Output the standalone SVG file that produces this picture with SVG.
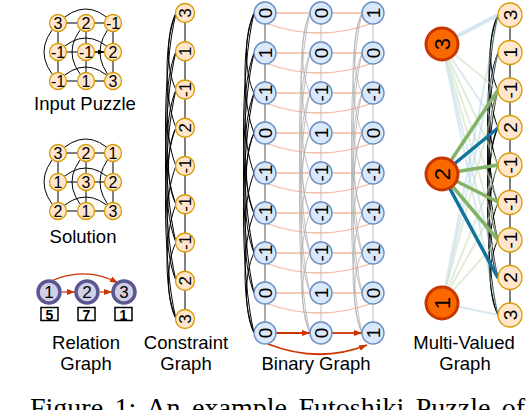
<svg xmlns="http://www.w3.org/2000/svg" xmlns:xlink="http://www.w3.org/1999/xlink" width="526" height="410" viewBox="0 0 526 410">
<style>
text{font-family:"Liberation Sans",Arial,sans-serif;fill:#000;text-anchor:middle;dominant-baseline:central}
.lbl{font-size:18.5px;dominant-baseline:auto}
.cap{font-family:"Liberation Serif","Times New Roman",serif;font-size:28px;text-anchor:start;dominant-baseline:auto;word-spacing:4.5px}
.pz circle{fill:#ffe6cc;stroke:#d79b00;stroke-width:1.3}
.bn circle{fill:#dae8fc;stroke:#6c8ebf;stroke-width:1.4}
.mv circle{fill:#fa6800;stroke:#c73500;stroke-width:3}
.rn circle{fill:#d1d0e6;stroke:#5b5791;stroke-width:3.5}
.bx rect{fill:#fff;stroke:#000;stroke-width:1.5}
.f16{font-size:16px}.f17{font-size:17px}.f19{font-size:19px}.f22{font-size:22px}.f14{font-size:14px;font-weight:bold}
.k{stroke:#000;stroke-width:1;fill:none}
.dk{stroke:#555;stroke-width:1;fill:none}
.gr{stroke:#b0b0b0;stroke-width:0.8;fill:none}
.sal{stroke:#f5b89c;stroke-width:1.3;fill:none}
.red{stroke:#cc3300;stroke-width:1.8;fill:none;marker-end:url(#ar)}
.redt{stroke:#cc3300;stroke-width:1.2;fill:none;marker-end:url(#ar)}
.gn{stroke:#82b366;stroke-width:3.5}
.bl{stroke:#10739e;stroke-width:3.5}
.lgn{stroke:#c9e0bc;stroke-width:2;opacity:.55}
.lbl2{stroke:#a9cfe0;stroke-width:2;opacity:.45}
.lblt{stroke:#b8d8e8;stroke-width:4;opacity:.6}
</style>
<defs>
<marker id="ar" markerUnits="userSpaceOnUse" markerWidth="8" markerHeight="6" refX="8" refY="3" orient="auto"><path d="M0,0 L8,3 L0,6 z" fill="#cc3300"/></marker>
<marker id="ak" markerUnits="userSpaceOnUse" markerWidth="6" markerHeight="5" refX="6" refY="2.5" orient="auto"><path d="M0,0 L6,2.5 L0,5 z" fill="#000"/></marker>
<g id="arcs" fill="none">
<path vector-effect="non-scaling-stroke" d="M0 0 C-10 20 -10 60 0 80"/>
<path vector-effect="non-scaling-stroke" d="M0 120 C-10 140 -10 180 0 200"/>
<path vector-effect="non-scaling-stroke" d="M0 240 C-10 260 -10 300 0 320"/>
<path vector-effect="non-scaling-stroke" d="M0 0 C-12 30 -12 90 0 120"/>
<path vector-effect="non-scaling-stroke" d="M0 120 C-12 150 -12 210 0 240"/>
<path vector-effect="non-scaling-stroke" d="M0 0 C-14 60 -14 180 0 240"/>
<path vector-effect="non-scaling-stroke" d="M0 40 C-12 70 -12 130 0 160"/>
<path vector-effect="non-scaling-stroke" d="M0 160 C-12 190 -12 250 0 280"/>
<path vector-effect="non-scaling-stroke" d="M0 40 C-14 100 -14 220 0 280"/>
<path vector-effect="non-scaling-stroke" d="M0 80 C-12 110 -12 170 0 200"/>
<path vector-effect="non-scaling-stroke" d="M0 200 C-12 230 -12 290 0 320"/>
<path vector-effect="non-scaling-stroke" d="M0 80 C-14 140 -14 260 0 320"/>
</g>
<g id="gridedges" class="k">
<path d="M58 23 H113 M58 52 H113 M58 81 H113 M58 23 V81 M86 23 V81 M113 23 V81"/>
<path d="M58 23 Q86 -5 113 23 M58 52 Q86 24 113 52 M58 81 Q86 53 113 81 M58 23 Q30 52 58 81 M86 23 Q58 52 86 81 M113 23 Q87 52 113 81"/>
</g>
</defs>

<g id="connectors">
<use href="#gridedges"/>
<path class="k" d="M95 52 H104" marker-end="url(#ak)"/>
<use href="#gridedges" transform="translate(0,130)"/>
<path class="redt" d="M62 292 H75"/>
<path class="redt" d="M100 292 H112"/>
<path class="redt" d="M51 281 Q86 266 118 283"/>
<path class="k" d="M185 13 V319"/>
<use href="#arcs" class="k" transform="translate(176,13) scale(1,0.95625)"/>
<path class="sal" d="M265 13 H373 M265 53 H373 M265 93 H373 M265 133 H373 M265 173 H373 M265 213 H373 M265 253 H373 M265 293 H373"/>
<path class="sal" d="M268 24 Q319 42 370 24 M268 64 Q319 82 370 64 M268 104 Q319 122 370 104 M268 144 Q319 162 370 144 M268 184 Q319 202 370 184 M268 224 Q319 242 370 224 M268 264 Q319 282 370 264 M268 304 Q319 322 370 304"/>
<path class="dk" d="M265 13 V333"/>
<path class="gr" d="M321 13 V333 M373 13 V333"/>
<use href="#arcs" class="k" transform="translate(254,13)"/>
<use href="#arcs" class="gr" transform="translate(310,13)"/>
<use href="#arcs" class="gr" transform="translate(362,13)"/>
<path class="red" d="M276 333 H310"/>
<path class="red" d="M332 333 H362"/>
<path class="red" d="M268 344 Q319 364 367 345"/>
<path class="k" d="M510 15 V315"/>
<use href="#arcs" class="k" transform="translate(498,15) scale(1,0.9375)"/>
<g>
<path class="lblt" d="M442 44 L498 15"/>
<path class="lgn" d="M442 44 L498 90 M442 44 L498 165 M442 44 L498 202 M442 44 L498 240"/>
<path class="lbl2" d="M442 44 L498 128 M442 44 L498 278 M442 44 L498 315"/>
<path class="lbl2" d="M442 303 L498 52 M442 303 L498 15 M442 303 L498 315"/>
<path class="lgn" d="M442 303 L498 90 M442 303 L498 165 M442 303 L498 202 M442 303 L498 240"/>
<path class="gn" d="M442 174 L498 90 M442 174 L498 165 M442 174 L498 202 M442 174 L498 240"/>
<path class="bl" d="M442 174 L498 128 M442 174 L498 278"/>
</g>
</g>

<g id="puzzle">
<g id="p11" class="pz"><circle cx="58" cy="23" r="8.5"/><text class="f16" x="58" y="23.5">3</text></g>
<g id="p12" class="pz"><circle cx="86" cy="23" r="8.5"/><text class="f16" x="86" y="23.5">2</text></g>
<g id="p13" class="pz"><circle cx="113" cy="23" r="8.5"/><text class="f16" x="113" y="23.5">-1</text></g>
<g id="p21" class="pz"><circle cx="58" cy="52" r="8.5"/><text class="f16" x="58" y="52.5">-1</text></g>
<g id="p22" class="pz"><circle cx="86" cy="52" r="8.5"/><text class="f16" x="86" y="52.5">-1</text></g>
<g id="p23" class="pz"><circle cx="113" cy="52" r="8.5"/><text class="f16" x="113" y="52.5">2</text></g>
<g id="p31" class="pz"><circle cx="58" cy="81" r="8.5"/><text class="f16" x="58" y="81.5">-1</text></g>
<g id="p32" class="pz"><circle cx="86" cy="81" r="8.5"/><text class="f16" x="86" y="81.5">1</text></g>
<g id="p33" class="pz"><circle cx="113" cy="81" r="8.5"/><text class="f16" x="113" y="81.5">3</text></g>
</g>
<text class="lbl" x="85" y="110">Input Puzzle</text>

<g id="solution">
<g id="s11" class="pz"><circle cx="58" cy="153" r="8.5"/><text class="f16" x="58" y="153.5">3</text></g>
<g id="s12" class="pz"><circle cx="86" cy="153" r="8.5"/><text class="f16" x="86" y="153.5">2</text></g>
<g id="s13" class="pz"><circle cx="113" cy="153" r="8.5"/><text class="f16" x="113" y="153.5">1</text></g>
<g id="s21" class="pz"><circle cx="58" cy="182" r="8.5"/><text class="f16" x="58" y="182.5">1</text></g>
<g id="s22" class="pz"><circle cx="86" cy="182" r="8.5"/><text class="f16" x="86" y="182.5">3</text></g>
<g id="s23" class="pz"><circle cx="113" cy="182" r="8.5"/><text class="f16" x="113" y="182.5">2</text></g>
<g id="s31" class="pz"><circle cx="58" cy="211" r="8.5"/><text class="f16" x="58" y="211.5">2</text></g>
<g id="s32" class="pz"><circle cx="86" cy="211" r="8.5"/><text class="f16" x="86" y="211.5">1</text></g>
<g id="s33" class="pz"><circle cx="113" cy="211" r="8.5"/><text class="f16" x="113" y="211.5">3</text></g>
</g>
<text class="lbl" x="83" y="243">Solution</text>

<g id="relation">
<g id="r1" class="rn"><circle cx="49" cy="292" r="11"/><text class="f17" x="49" y="292.5">1</text></g>
<g id="r2" class="rn"><circle cx="87" cy="292" r="11"/><text class="f17" x="87" y="292.5">2</text></g>
<g id="r3" class="rn"><circle cx="124" cy="292" r="11"/><text class="f17" x="124" y="292.5">3</text></g>
<g id="b1" class="bx"><rect x="41" y="307.5" width="17" height="13"/><text class="f14" x="49.5" y="314.5">5</text></g>
<g id="b2" class="bx"><rect x="78" y="307.5" width="17" height="13"/><text class="f14" x="86.5" y="314.5">7</text></g>
<g id="b3" class="bx"><rect x="115" y="307.5" width="17" height="13"/><text class="f14" x="123.5" y="314.5">1</text></g>
</g>
<text class="lbl" x="86" y="349">Relation</text>
<text class="lbl" x="86" y="370">Graph</text>

<g id="constraint">
<g id="c1" class="pz"><circle cx="185" cy="13" r="9.5"/><text class="f17" transform="translate(185.5,13) rotate(-90)">3</text></g>
<g id="c2" class="pz"><circle cx="185" cy="51.25" r="9.5"/><text class="f17" transform="translate(185.5,51.25) rotate(-90)">1</text></g>
<g id="c3" class="pz"><circle cx="185" cy="89.5" r="9.5"/><text class="f17" transform="translate(185.5,89.5) rotate(-90)">-1</text></g>
<g id="c4" class="pz"><circle cx="185" cy="127.75" r="9.5"/><text class="f17" transform="translate(185.5,127.75) rotate(-90)">2</text></g>
<g id="c5" class="pz"><circle cx="185" cy="166" r="9.5"/><text class="f17" transform="translate(185.5,166) rotate(-90)">-1</text></g>
<g id="c6" class="pz"><circle cx="185" cy="204.25" r="9.5"/><text class="f17" transform="translate(185.5,204.25) rotate(-90)">-1</text></g>
<g id="c7" class="pz"><circle cx="185" cy="242.5" r="9.5"/><text class="f17" transform="translate(185.5,242.5) rotate(-90)">-1</text></g>
<g id="c8" class="pz"><circle cx="185" cy="280.75" r="9.5"/><text class="f17" transform="translate(185.5,280.75) rotate(-90)">2</text></g>
<g id="c9" class="pz"><circle cx="185" cy="319" r="9.5"/><text class="f17" transform="translate(185.5,319) rotate(-90)">3</text></g>
</g>
<text class="lbl" x="186" y="349">Constraint</text>
<text class="lbl" x="186" y="370">Graph</text>

<g id="binary">
<g id="n11" class="bn"><circle cx="265" cy="13" r="11"/><text class="f19" transform="translate(265.5,13) rotate(-90)">0</text></g>
<g id="n12" class="bn"><circle cx="321" cy="13" r="11"/><text class="f19" transform="translate(321.5,13) rotate(-90)">0</text></g>
<g id="n13" class="bn"><circle cx="373" cy="13" r="11"/><text class="f19" transform="translate(373.5,13) rotate(-90)">1</text></g>
<g id="n21" class="bn"><circle cx="265" cy="53" r="11"/><text class="f19" transform="translate(265.5,53) rotate(-90)">1</text></g>
<g id="n22" class="bn"><circle cx="321" cy="53" r="11"/><text class="f19" transform="translate(321.5,53) rotate(-90)">0</text></g>
<g id="n23" class="bn"><circle cx="373" cy="53" r="11"/><text class="f19" transform="translate(373.5,53) rotate(-90)">0</text></g>
<g id="n31" class="bn"><circle cx="265" cy="93" r="11"/><text class="f19" transform="translate(265.5,93) rotate(-90)">-1</text></g>
<g id="n32" class="bn"><circle cx="321" cy="93" r="11"/><text class="f19" transform="translate(321.5,93) rotate(-90)">-1</text></g>
<g id="n33" class="bn"><circle cx="373" cy="93" r="11"/><text class="f19" transform="translate(373.5,93) rotate(-90)">-1</text></g>
<g id="n41" class="bn"><circle cx="265" cy="133" r="11"/><text class="f19" transform="translate(265.5,133) rotate(-90)">0</text></g>
<g id="n42" class="bn"><circle cx="321" cy="133" r="11"/><text class="f19" transform="translate(321.5,133) rotate(-90)">1</text></g>
<g id="n43" class="bn"><circle cx="373" cy="133" r="11"/><text class="f19" transform="translate(373.5,133) rotate(-90)">0</text></g>
<g id="n51" class="bn"><circle cx="265" cy="173" r="11"/><text class="f19" transform="translate(265.5,173) rotate(-90)">-1</text></g>
<g id="n52" class="bn"><circle cx="321" cy="173" r="11"/><text class="f19" transform="translate(321.5,173) rotate(-90)">-1</text></g>
<g id="n53" class="bn"><circle cx="373" cy="173" r="11"/><text class="f19" transform="translate(373.5,173) rotate(-90)">-1</text></g>
<g id="n61" class="bn"><circle cx="265" cy="213" r="11"/><text class="f19" transform="translate(265.5,213) rotate(-90)">-1</text></g>
<g id="n62" class="bn"><circle cx="321" cy="213" r="11"/><text class="f19" transform="translate(321.5,213) rotate(-90)">-1</text></g>
<g id="n63" class="bn"><circle cx="373" cy="213" r="11"/><text class="f19" transform="translate(373.5,213) rotate(-90)">-1</text></g>
<g id="n71" class="bn"><circle cx="265" cy="253" r="11"/><text class="f19" transform="translate(265.5,253) rotate(-90)">-1</text></g>
<g id="n72" class="bn"><circle cx="321" cy="253" r="11"/><text class="f19" transform="translate(321.5,253) rotate(-90)">-1</text></g>
<g id="n73" class="bn"><circle cx="373" cy="253" r="11"/><text class="f19" transform="translate(373.5,253) rotate(-90)">-1</text></g>
<g id="n81" class="bn"><circle cx="265" cy="293" r="11"/><text class="f19" transform="translate(265.5,293) rotate(-90)">0</text></g>
<g id="n82" class="bn"><circle cx="321" cy="293" r="11"/><text class="f19" transform="translate(321.5,293) rotate(-90)">1</text></g>
<g id="n83" class="bn"><circle cx="373" cy="293" r="11"/><text class="f19" transform="translate(373.5,293) rotate(-90)">0</text></g>
<g id="n91" class="bn"><circle cx="265" cy="333" r="11"/><text class="f19" transform="translate(265.5,333) rotate(-90)">0</text></g>
<g id="n92" class="bn"><circle cx="321" cy="333" r="11"/><text class="f19" transform="translate(321.5,333) rotate(-90)">0</text></g>
<g id="n93" class="bn"><circle cx="373" cy="333" r="11"/><text class="f19" transform="translate(373.5,333) rotate(-90)">1</text></g>
</g>
<text class="lbl" x="316" y="370">Binary Graph</text>

<g id="multivalued">
<g id="v3" class="mv"><circle cx="442" cy="44" r="16"/><text class="f22" transform="translate(442.5,44) rotate(-90)">3</text></g>
<g id="v2" class="mv"><circle cx="442" cy="174" r="16"/><text class="f22" transform="translate(442.5,174) rotate(-90)">2</text></g>
<g id="v1" class="mv"><circle cx="442" cy="303" r="16"/><text class="f22" transform="translate(442.5,303) rotate(-90)">1</text></g>
<g id="m1" class="pz"><circle cx="510" cy="15" r="12"/><text class="f19" transform="translate(510.5,15) rotate(-90)">3</text></g>
<g id="m2" class="pz"><circle cx="510" cy="52.5" r="12"/><text class="f19" transform="translate(510.5,52.5) rotate(-90)">1</text></g>
<g id="m3" class="pz"><circle cx="510" cy="90" r="12"/><text class="f19" transform="translate(510.5,90) rotate(-90)">-1</text></g>
<g id="m4" class="pz"><circle cx="510" cy="127.5" r="12"/><text class="f19" transform="translate(510.5,127.5) rotate(-90)">2</text></g>
<g id="m5" class="pz"><circle cx="510" cy="165" r="12"/><text class="f19" transform="translate(510.5,165) rotate(-90)">-1</text></g>
<g id="m6" class="pz"><circle cx="510" cy="202.5" r="12"/><text class="f19" transform="translate(510.5,202.5) rotate(-90)">-1</text></g>
<g id="m7" class="pz"><circle cx="510" cy="240" r="12"/><text class="f19" transform="translate(510.5,240) rotate(-90)">-1</text></g>
<g id="m8" class="pz"><circle cx="510" cy="277.5" r="12"/><text class="f19" transform="translate(510.5,277.5) rotate(-90)">2</text></g>
<g id="m9" class="pz"><circle cx="510" cy="315" r="12"/><text class="f19" transform="translate(510.5,315) rotate(-90)">3</text></g>
</g>
<text class="lbl" x="464" y="349">Multi-Valued</text>
<text class="lbl" x="465" y="370">Graph</text>

<text class="cap" x="30" y="417">Figure 1: An example Futoshiki Puzzle of</text>
</svg>
